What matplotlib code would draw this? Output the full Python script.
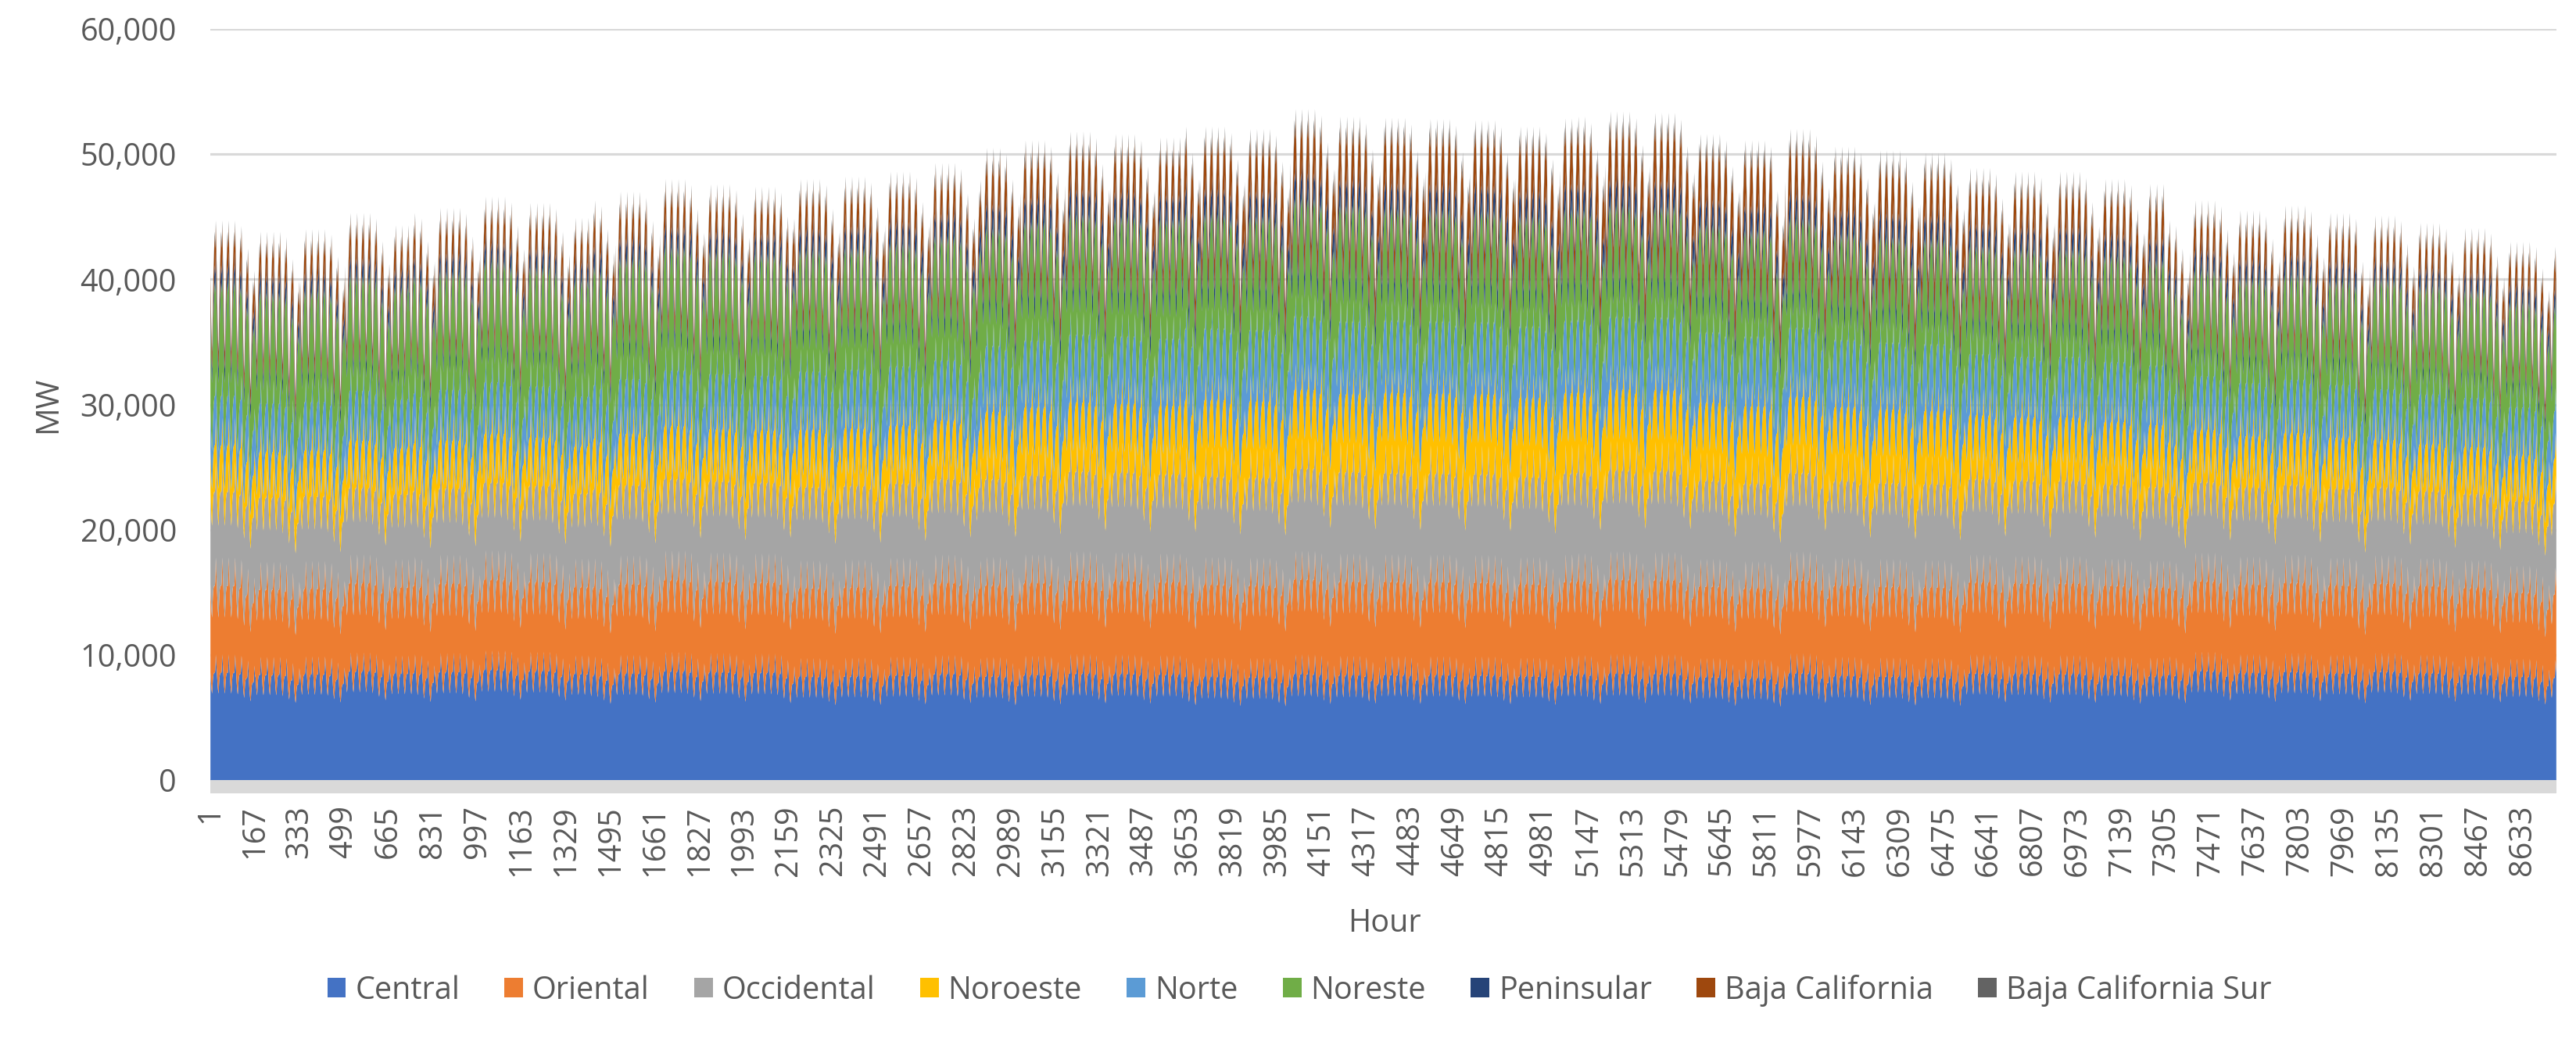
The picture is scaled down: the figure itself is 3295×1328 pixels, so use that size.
import numpy as np
import matplotlib
matplotlib.use('Agg')
import matplotlib.pyplot as plt
from matplotlib.patches import Rectangle
from matplotlib.ticker import FuncFormatter

plt.rcParams['font.family'] = ['Open Sans', 'DejaVu Sans']

regions = ['Central', 'Oriental', 'Occidental', 'Noroeste', 'Norte',
           'Noreste', 'Peninsular', 'Baja California', 'Baja California Sur']
colors = ['#4472C4', '#ED7D31', '#A5A5A5', '#FFC000', '#5B9BD5',
          '#70AD47', '#264478', '#9E480E', '#636363']

# monthly night low / evening high of each region (MW)
central_low = [6600, 6600, 6500, 6400, 6400, 6300, 6400, 6400, 6400, 6500, 6600, 6500]
central_high = [9600, 9700, 9600, 9500, 9600, 9500, 9500, 9600, 9600, 9600, 9700, 9500]
oriental_low = [5800, 5900, 6000, 6100, 6300, 6400, 6400, 6400, 6300, 6200, 6000, 5800]
oriental_high = [7400, 7500, 7600, 7600, 7800, 7800, 7800, 7800, 7700, 7600, 7500, 7300]
occidental_low = [7000, 7100, 7400, 7700, 8100, 8200, 8200, 8200, 8000, 7700, 7300, 7000]
occidental_high = [7300, 7400, 7700, 8000, 8400, 8500, 8400, 8400, 8200, 8000, 7600, 7300]
noroeste_low = [2800, 2900, 3100, 3500, 4200, 4800, 4900, 4900, 4600, 3900, 3200, 2800]
noroeste_high = [3600, 3700, 4000, 4500, 5300, 6000, 6200, 6200, 5800, 4900, 4000, 3600]
norte_low = [2900, 3000, 3200, 3500, 4000, 4300, 4300, 4300, 4000, 3600, 3100, 2900]
norte_high = [3800, 3900, 4200, 4600, 5200, 5600, 5600, 5600, 5300, 4700, 4100, 3800]
noreste_low = [5200, 5600, 5900, 6300, 6500, 6300, 6000, 6000, 5800, 5500, 5000, 4900]
noreste_high = [8600, 9000, 9200, 9400, 9100, 8800, 8500, 8400, 8200, 8200, 8000, 8200]
peninsular_low = [1100, 1150, 1250, 1400, 1600, 1700, 1700, 1700, 1600, 1450, 1250, 1100]
peninsular_high = [1600, 1650, 1800, 1950, 2150, 2200, 2200, 2200, 2100, 1950, 1750, 1600]
bc_low = [1300, 1300, 1400, 1600, 1900, 2300, 2500, 2600, 2400, 1900, 1500, 1300]
bc_high = [2200, 2200, 2300, 2600, 3000, 3500, 3800, 3900, 3600, 2900, 2400, 2200]
bcs_low = [280, 280, 300, 330, 380, 430, 460, 470, 450, 400, 330, 290]
bcs_high = [420, 420, 450, 500, 550, 600, 630, 640, 620, 560, 480, 430]

# daily load shapes (0 = night low, 1 = daily high), hours 1..24
south_shape = [0.55, 0.42, 0.30, 0.20, 0.12, 0.05, 0.00, 0.08, 0.22, 0.34, 0.42, 0.47,
               0.50, 0.52, 0.53, 0.53, 0.52, 0.54, 0.60, 0.78, 1.00, 0.92, 0.78, 0.66]
north_shape = [0.45, 0.34, 0.24, 0.15, 0.08, 0.02, 0.00, 0.04, 0.14, 0.26, 0.38, 0.50,
               0.60, 0.70, 0.80, 0.92, 1.00, 0.90, 0.78, 0.72, 0.70, 0.64, 0.57, 0.50]
weekday_factor = [1.0, 1.0, 1.0, 1.0, 0.99, 0.95, 0.91]  # Mon..Sun

# weekly peak of the total (MW)
week_peak = [44700, 43800, 44000, 45300, 45300, 45700, 46600, 46100, 46300, 47000,
             48000, 47600, 47400, 48000, 48200, 48600, 49300, 50500, 51100, 51800,
             51600, 52200, 52200, 52000, 53600, 53000, 52900, 52800, 52700, 52200,
             53000, 53400, 53300, 51600, 51100, 52000, 50600, 50300, 50100, 48900,
             48600, 48600, 48000, 47600, 46300, 45500, 45900, 45300, 45100, 44500,
             44100, 43000, 42600]
month_days = [31, 28, 31, 30, 31, 30, 31, 31, 30, 31, 30, 31]

lows = [central_low, oriental_low, occidental_low, noroeste_low, norte_low,
        noreste_low, peninsular_low, bc_low, bcs_low]
highs = [central_high, oriental_high, occidental_high, noroeste_high, norte_high,
         noreste_high, peninsular_high, bc_high, bcs_high]
north = [False, False, False, True, True, True, False, True, False]

n_days = sum(month_days)
day_idx = np.repeat(np.arange(n_days), 24)
hour_idx = np.tile(np.arange(24), n_days)
month_idx = np.repeat(np.repeat(np.arange(12), month_days), 24)
wf = np.array(weekday_factor)[day_idx % 7]

series = []
for lo, hi, is_north in zip(lows, highs, north):
    lo = np.array(lo, float)[month_idx]
    hi = np.array(hi, float)[month_idx]
    shp = np.array(north_shape if is_north else south_shape)[hour_idx]
    series.append((lo + (hi - lo) * shp) * wf)
series = np.array(series)

week_idx = day_idx // 7
total = series.sum(axis=0)
for w in range(len(week_peak)):
    m = week_idx == w
    series[:, m] *= week_peak[w] / total[m].max()

hours = np.arange(1, n_days * 24 + 1)

W, H = 3295, 1328
fig = plt.figure(figsize=(W / 100, H / 100), dpi=100)
ax = fig.add_axes([269 / W, 1 - 998 / H, 3001 / W, 961 / H])

polys = ax.stackplot(hours, series, colors=colors, labels=regions, linewidth=0)

ax.set_xlim(0.5, n_days * 24 + 0.5)
ax.set_ylim(0, 60000)
ax.set_yticks(range(0, 60001, 10000))
ax.yaxis.set_major_formatter(FuncFormatter(lambda v, p: '{:,.0f}'.format(v)))
ax.grid(axis='y', color='#D9D9D9', linewidth=2.3)
ax.set_axisbelow(True)

xt = list(range(1, n_days * 24 + 1, 166))
ax.set_xticks(xt)
ax.set_xticklabels([str(v) for v in xt], rotation=90)
ax.tick_params(axis='x', length=0, pad=23, labelsize=28.5, labelcolor='#595959')
ax.tick_params(axis='y', length=0, pad=31, labelsize=28.5, labelcolor='#595959')
for s in ax.spines.values():
    s.set_visible(False)

# dense category tick marks under the axis
ax.add_patch(Rectangle((0, -17 / 961), 1, 17 / 961, transform=ax.transAxes,
                       facecolor='#D9D9D9', linewidth=0, clip_on=False))

fig.text(62 / W, 1 - 518 / H, 'MW', rotation=90, ha='center', va='center',
         fontsize=28.5, color='#595959')
fig.text(1771 / W, 1 - 1182 / H, 'Hour', ha='center', va='center',
         fontsize=28.5, color='#595959')

leg = fig.legend(polys, regions, loc='center', bbox_to_anchor=(1662 / W, 1 - 1267 / H),
                 ncol=9, frameon=False, fontsize=28.5, handlelength=0.6,
                 handleheight=0.6, handletextpad=0.3, columnspacing=1.45)
for t in leg.get_texts():
    t.set_color('#595959')

fig.savefig('out.png', dpi=100)
